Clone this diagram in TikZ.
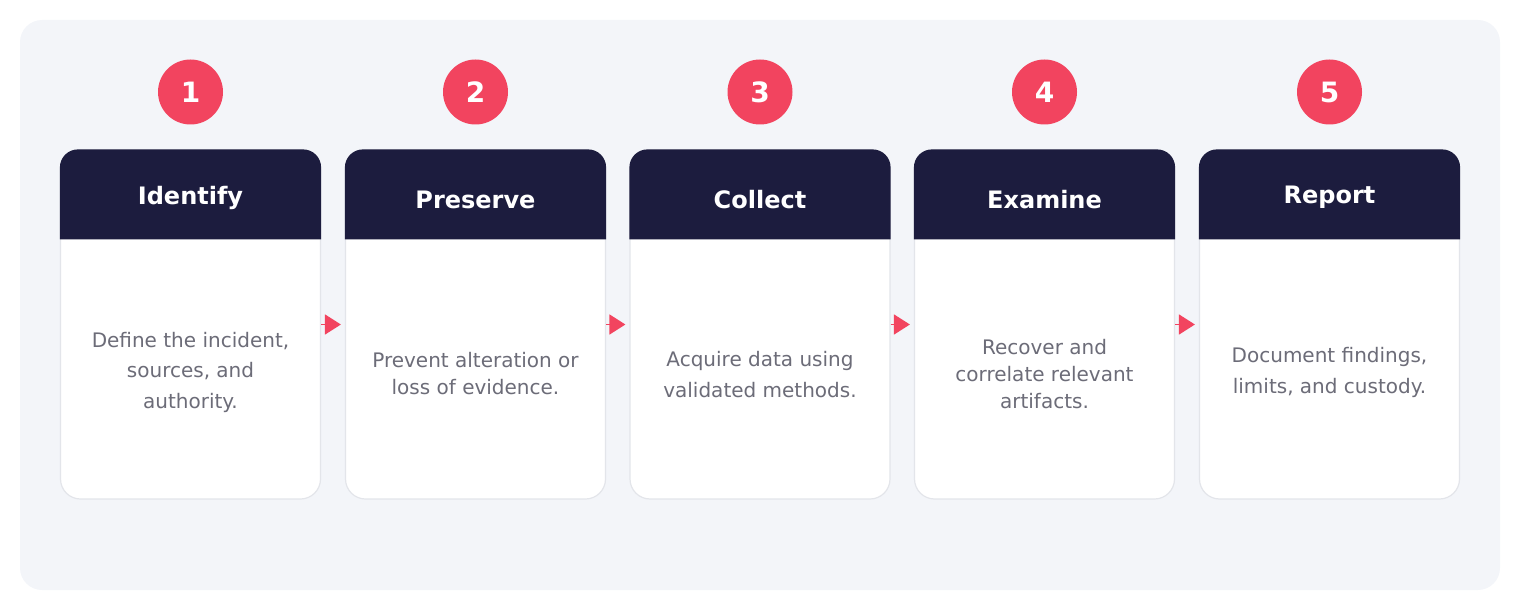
\documentclass[tikz,border=0pt]{standalone}
\usepackage{fontspec}
\setmainfont{DejaVu Sans}
\usetikzlibrary{arrows.meta}
\definecolor{panelbg}{HTML}{F3F5F9}
\definecolor{navy}{HTML}{1C1C3E}
\definecolor{rosered}{HTML}{F2445F}
\definecolor{descgray}{HTML}{6C6C78}
\definecolor{cardline}{HTML}{E3E5EA}
\begin{document}
\begin{tikzpicture}[x=0.5pt, y=-0.5pt,
  card/.style={rectangle, fill=white, draw=cardline, line width=0.6pt, rounded corners=10pt, minimum width=130pt, minimum height=174.5pt, inner sep=0pt},
  badge/.style={circle, fill=rosered, minimum size=32.5pt, inner sep=0pt, text=white, font=\bfseries\fontsize{14}{16}\selectfont},
  title/.style={text=white, font=\bfseries\fontsize{12}{14}\selectfont},
  desc/.style={align=center, text=descgray, font=\fontsize{10}{15.25}\selectfont},
  desctight/.style={desc, font=\fontsize{10}{13.5}\selectfont},
  flow/.style={draw=rosered, line width=0.8pt, shorten >=2pt, -{Triangle[width=10pt,length=8pt]}}]
\useasboundingbox (0,0) rectangle (1520,610);
\fill[panelbg, rounded corners=11pt] (20,20) rectangle (1500,590);
% cards
\node[card] (card1) at (190.5,324.5){};
\node[card] (card2) at (475.5,324.5){};
\node[card] (card3) at (760,324.5){};
\node[card] (card4) at (1044.5,324.5){};
\node[card] (card5) at (1329.5,324.5){};
\fill[navy] ([yshift=-45pt]card1.north west) [rounded corners=9pt] -- (card1.north west) -- (card1.north east) [sharp corners] -- ([yshift=-45pt]card1.north east) -- cycle;
\fill[navy] ([yshift=-45pt]card2.north west) [rounded corners=9pt] -- (card2.north west) -- (card2.north east) [sharp corners] -- ([yshift=-45pt]card2.north east) -- cycle;
\fill[navy] ([yshift=-45pt]card3.north west) [rounded corners=9pt] -- (card3.north west) -- (card3.north east) [sharp corners] -- ([yshift=-45pt]card3.north east) -- cycle;
\fill[navy] ([yshift=-45pt]card4.north west) [rounded corners=9pt] -- (card4.north west) -- (card4.north east) [sharp corners] -- ([yshift=-45pt]card4.north east) -- cycle;
\fill[navy] ([yshift=-45pt]card5.north west) [rounded corners=9pt] -- (card5.north west) -- (card5.north east) [sharp corners] -- ([yshift=-45pt]card5.north east) -- cycle;
% numbers
\node[badge] (num1) at (190.5,92){1};
\node[badge] (num2) at (475.5,92){2};
\node[badge] (num3) at (760,92){3};
\node[badge] (num4) at (1044.5,92){4};
\node[badge] (num5) at (1329.5,92){5};
% titles
\node[title] (head1) at (190.5,197.5){Identify};
\node[title] (head2) at (475.5,199.5){Preserve};
\node[title] (head3) at (760,199.5){Collect};
\node[title] (head4) at (1044.5,199.5){Examine};
\node[title] (head5) at (1329.5,197.5){Report};
% texts
\node[desc] (desc1) at (190.5,372){Define the incident,\\sources, and\\authority.};
\node[desctight] (desc2) at (475.5,373.5){Prevent alteration or\\loss of evidence.};
\node[desc] (desc3) at (760,374.5){Acquire data using\\validated methods.};
\node[desctight] (desc4) at (1044.5,374){Recover and\\correlate relevant\\artifacts.};
\node[desc] (desc5) at (1329.5,372.5){Document findings,\\limits, and custody.};
% arrows
\draw[flow] (card1.east) -- (card2.west);
\draw[flow] (card2.east) -- (card3.west);
\draw[flow] (card3.east) -- (card4.west);
\draw[flow] (card4.east) -- (card5.west);
\end{tikzpicture}
\end{document}
